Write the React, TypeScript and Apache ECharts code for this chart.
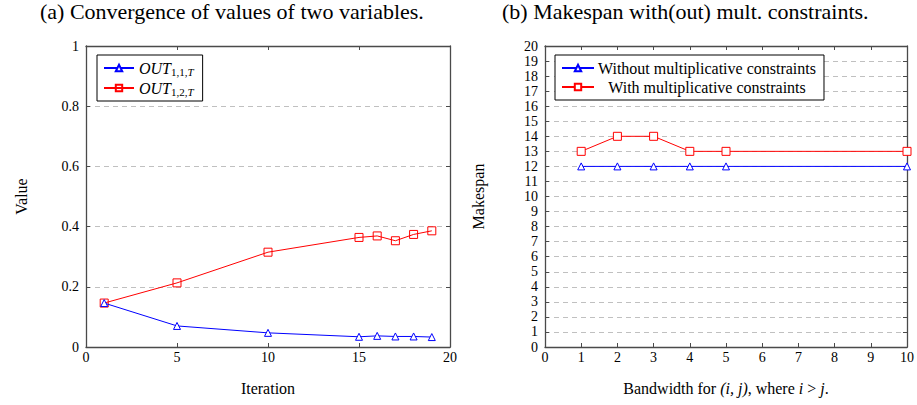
import React, { useEffect, useRef } from "react";
import * as echarts from "echarts";

const iterations = [1, 5, 10, 15, 16, 17, 18, 19];
const out11 = [0.146, 0.07, 0.047, 0.034, 0.037, 0.035, 0.035, 0.033];
const out12 = [0.146, 0.213, 0.315, 0.364, 0.369, 0.353, 0.374, 0.386];
const leftSeriesNames = ["OUT_{1,1,T}", "OUT_{1,2,T}"];

const bandwidth = [1, 2, 3, 4, 5, 10];
const withoutMult = [12, 12, 12, 12, 12, 12];
const withMult = [13, 14, 14, 13, 13, 13];
const rightSeriesNames = ["Without multiplicative constraints", "With multiplicative constraints"];

const titles = ["(a) Convergence of values of two variables.", "(b) Makespan with(out) mult. constraints."];

const FONT = "Liberation Serif";
const AXIS_COLOR = "#4a4a4a";
const BLUE = "#0000ff";
const RED = "#ff0000";

export default function App() {
  const ref = useRef<HTMLDivElement>(null);
  useEffect(() => {
    if (!ref.current) return;
    const chart = echarts.init(ref.current, null, { renderer: "svg" });
    const pair = (xs: number[], ys: number[]) => xs.map((x, i) => [x, ys[i]]);
    const axisLine = { show: true, onZero: false, lineStyle: { color: AXIS_COLOR, width: 1.3 } };
    const axisTick = { show: true, inside: true, length: 4, lineStyle: { color: AXIS_COLOR, width: 1 } };
    const lbl = (margin: number) => ({ color: "#000", fontFamily: FONT, fontSize: 14, margin });
    const mirror = { axisLine, axisTick, axisLabel: { show: false }, splitLine: { show: false } };
    const dashed = { show: true, lineStyle: { color: "#c0c0c0", type: [5, 4], width: 1 } };
    const nameStyle = { color: "#000", fontFamily: FONT, fontSize: 16 };

    const subRich = {
      i: { fontFamily: FONT, fontStyle: "italic", fontSize: 16, color: "#000", lineHeight: 18 },
      s: { fontFamily: FONT, fontSize: 11, color: "#000", lineHeight: 12, verticalAlign: "bottom" },
      si: { fontFamily: FONT, fontStyle: "italic", fontSize: 11, color: "#000", lineHeight: 12, verticalAlign: "bottom" },
    };

    const option: any = {
      animation: false,
      backgroundColor: "#fff",
      textStyle: { fontFamily: FONT },
      graphic: [
        { type: "text", left: 40, top: 0, style: { text: titles[0], fontFamily: FONT, fontSize: 22, fill: "#000" } },
        { type: "text", left: 502, top: 0, style: { text: titles[1], fontFamily: FONT, fontSize: 22, fill: "#000" } },
      ],
      grid: [
        { left: 86, right: 467, top: 46, bottom: 58 },
        { left: 545, right: 10, top: 46, bottom: 58 },
      ],
      legend: [
        {
          data: leftSeriesNames,
          orient: "vertical",
          left: 97,
          top: 55,
          itemWidth: 30,
          itemHeight: 8,
          itemGap: 3,
          padding: [5, 9, 4, 6],
          borderColor: "#000",
          borderWidth: 1,
          backgroundColor: "#fff",
          formatter: (name: string) => (name === leftSeriesNames[0] ? "{i|OUT}{s|1,1,}{si|T}" : "{i|OUT}{s|1,2,}{si|T}"),
          textStyle: { rich: subRich },
        },
        {
          data: rightSeriesNames,
          orient: "vertical",
          left: 555,
          top: 55,
          itemWidth: 32,
          itemHeight: 8,
          itemGap: 3,
          padding: [5, 8, 5, 6],
          borderColor: "#000",
          borderWidth: 1,
          backgroundColor: "#fff",
          formatter: (name: string) => `{c|${name}}`,
          textStyle: {
            rich: { c: { fontFamily: FONT, fontSize: 16, lineHeight: 18, color: "#000", width: 216, align: "center" } },
          },
        },
      ],
      xAxis: [
        {
          axisLine,
          axisTick,
          type: "value",
          gridIndex: 0,
          min: 0,
          max: 20,
          interval: 5,
          position: "bottom",
          splitLine: { show: false },
          axisLabel: lbl(3),
          name: "Iteration",
          nameLocation: "middle",
          nameGap: 33,
          nameTextStyle: nameStyle,
        },
        { ...mirror, type: "value", gridIndex: 0, min: 0, max: 20, interval: 5, position: "top" },
        {
          axisLine,
          axisTick,
          type: "value",
          gridIndex: 1,
          min: 0,
          max: 10,
          interval: 1,
          position: "bottom",
          splitLine: { show: false },
          axisLabel: lbl(3),
          name: "Bandwidth for {it|(i, j)}, where {it|i} > {it|j}.",
          nameLocation: "middle",
          nameGap: 33,
          nameTextStyle: { ...nameStyle, rich: { it: { ...nameStyle, fontStyle: "italic" } } },
        },
        { ...mirror, type: "value", gridIndex: 1, min: 0, max: 10, interval: 1, position: "top" },
      ],
      yAxis: [
        {
          axisLine,
          axisTick,
          type: "value",
          gridIndex: 0,
          min: 0,
          max: 1,
          interval: 0.2,
          position: "left",
          splitLine: dashed,
          axisLabel: lbl(7),
          name: "Value",
          nameLocation: "middle",
          nameGap: 57,
          nameRotate: 90,
          nameTextStyle: nameStyle,
        },
        { ...mirror, type: "value", gridIndex: 0, min: 0, max: 1, interval: 0.2, position: "right" },
        {
          axisLine,
          axisTick,
          type: "value",
          gridIndex: 1,
          min: 0,
          max: 20,
          interval: 1,
          position: "left",
          splitLine: dashed,
          axisLabel: lbl(7),
          name: "Makespan",
          nameLocation: "middle",
          nameGap: 59,
          nameRotate: 90,
          nameTextStyle: nameStyle,
        },
        { ...mirror, type: "value", gridIndex: 1, min: 0, max: 20, interval: 1, position: "right" },
      ],
      series: [
        {
          name: leftSeriesNames[0],
          type: "line",
          xAxisIndex: 0,
          yAxisIndex: 0,
          data: pair(iterations, out11),
          symbol: "triangle",
          symbolSize: 7,
          showAllSymbol: true,
          lineStyle: { color: BLUE, width: 1 },
          itemStyle: { color: "#fff", borderColor: BLUE, borderWidth: 1 },
          z: 3,
        },
        {
          name: leftSeriesNames[1],
          type: "line",
          xAxisIndex: 0,
          yAxisIndex: 0,
          data: pair(iterations, out12),
          symbol: "rect",
          symbolSize: 8,
          showAllSymbol: true,
          lineStyle: { color: RED, width: 1 },
          itemStyle: { color: "rgba(255,255,255,0)", borderColor: RED, borderWidth: 1 },
          z: 2,
        },
        {
          name: rightSeriesNames[0],
          type: "line",
          xAxisIndex: 2,
          yAxisIndex: 2,
          data: pair(bandwidth, withoutMult),
          symbol: "triangle",
          symbolSize: 7,
          showAllSymbol: true,
          lineStyle: { color: BLUE, width: 1 },
          itemStyle: { color: "#fff", borderColor: BLUE, borderWidth: 1 },
        },
        {
          name: rightSeriesNames[1],
          type: "line",
          xAxisIndex: 2,
          yAxisIndex: 2,
          data: pair(bandwidth, withMult),
          symbol: "rect",
          symbolSize: 8,
          showAllSymbol: true,
          lineStyle: { color: RED, width: 1 },
          itemStyle: { color: "#fff", borderColor: RED, borderWidth: 1 },
        },
      ],
    };
    chart.setOption(option);
    return () => chart.dispose();
  }, []);
  return (
    <div
      ref={ref}
      style={{ position: "fixed", left: 0, top: 0, width: 917, height: 405, background: "#fff" }}
    />
  );
}
